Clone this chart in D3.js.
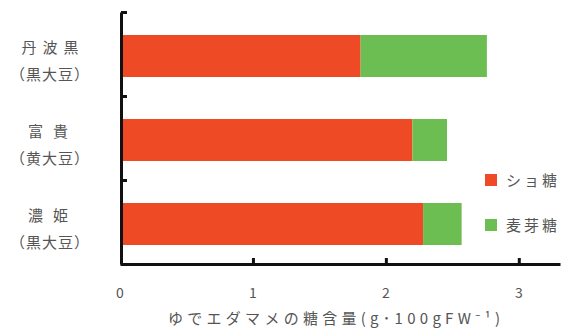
<!DOCTYPE html>
<html>
<head>
<meta charset="utf-8">
<script src="https://cdn.jsdelivr.net/npm/d3@7"></script>
<style>
  html, body { margin: 0; padding: 0; background: #fff; }
  svg { display: block; }
  text { font-family: "Noto Sans CJK JP", "Noto Sans", sans-serif; fill: #555; }
</style>
</head>
<body>
<svg id="chart" width="569" height="331"></svg>
<script>
// Varieties of boiled edamame (name, then bean type on a second line)
const varieties = ["丹波黒", "富貴", "濃姫"];
const beanTypes = ["（黒大豆）", "（黄大豆）", "（黒大豆）"];

// Sugar content, g per 100 g fresh weight
const sucrose = [1.81, 2.20, 2.28];
const maltose = [0.95, 0.26, 0.29];

const seriesNames = ["ショ糖", "麦芽糖"];
const seriesColors = ["#ef4a26", "#6cbd52"];

const xTicks = [0, 1, 2, 3];
const xTitle = "ゆでエダマメの糖含量(g･100gFW⁻¹)";

const svg = d3.select("#chart");

const x = d3.scaleLinear().domain([0, 3.31]).range([120, 560]);
const y = d3.scaleBand().domain(varieties).range([14, 266])
  .paddingInner(0.5).paddingOuter(0.25);
const yEdge = d3.scaleLinear().domain([0, varieties.length]).range([12, 264]);

// stacked bars
const stack = d3.stack().keys([0, 1]).value((d, k) => d[k]);
const rows = varieties.map((v, i) => ({ name: v, 0: sucrose[i], 1: maltose[i] }));
const layers = stack(rows);

layers.forEach((layer, k) => {
  svg.append("g")
    .selectAll("rect")
    .data(layer)
    .join("rect")
    .attr("x", d => x(d[0]))
    .attr("y", d => y(d.data.name))
    .attr("width", d => x(d[1]) - x(d[0]))
    .attr("height", y.bandwidth())
    .attr("fill", seriesColors[k]);
});

// bottom axis: thick line with short upward ticks
const xAxis = svg.append("g")
  .attr("transform", `translate(0,${yEdge(3)})`)
  .call(d3.axisBottom(x).tickValues(xTicks.slice(1)).tickSize(-6).tickSizeOuter(0).tickFormat(""));
xAxis.select(".domain").attr("stroke", "#111").attr("stroke-width", 3);
xAxis.selectAll(".tick line").attr("stroke", "#111").attr("stroke-width", 3);

// left axis: ticks at category boundaries pointing inward
const yAxis = svg.append("g")
  .attr("transform", `translate(121,0)`)
  .call(d3.axisLeft(yEdge).tickValues([0, 1, 2]).tickSize(-6).tickSizeOuter(0).tickFormat(""));
yAxis.select(".domain").attr("stroke", "#111").attr("stroke-width", 3);
yAxis.selectAll(".tick line").attr("stroke", "#111").attr("stroke-width", 3);

// x tick labels
svg.append("g")
  .selectAll("text")
  .data(xTicks)
  .join("text")
  .attr("x", d => x(d))
  .attr("y", 298)
  .attr("text-anchor", "middle")
  .attr("font-size", 14)
  .text(d => d);

// x axis title
svg.append("text")
  .attr("x", 168)
  .attr("y", 324)
  .attr("font-size", 15)
  .attr("textLength", 332)
  .attr("lengthAdjust", "spacing")
  .text(xTitle);

// category labels
const catG = svg.append("g");
varieties.forEach((v, i) => {
  const cy = y(v) + y.bandwidth() / 2;
  catG.append("text")
    .attr("x", 53).attr("y", cy - 3)
    .attr("text-anchor", "middle")
    .attr("font-size", 15)
    .attr("letter-spacing", v.length === 3 ? 6 : 10)
    .text(v);
  catG.append("text")
    .attr("x", 50).attr("y", cy + 24)
    .attr("text-anchor", "middle")
    .attr("font-size", 15)
    .attr("letter-spacing", 1)
    .text(beanTypes[i]);
});

// legend
const legend = svg.append("g");
seriesNames.forEach((name, k) => {
  const ly = 180 + k * 45;
  legend.append("rect")
    .attr("x", 485).attr("y", ly - 6)
    .attr("width", 12).attr("height", 12)
    .attr("fill", seriesColors[k]);
  legend.append("text")
    .attr("x", 506).attr("y", ly + 5.5)
    .attr("font-size", 15)
    .attr("letter-spacing", 3)
    .text(name);
});
</script>
</body>
</html>
